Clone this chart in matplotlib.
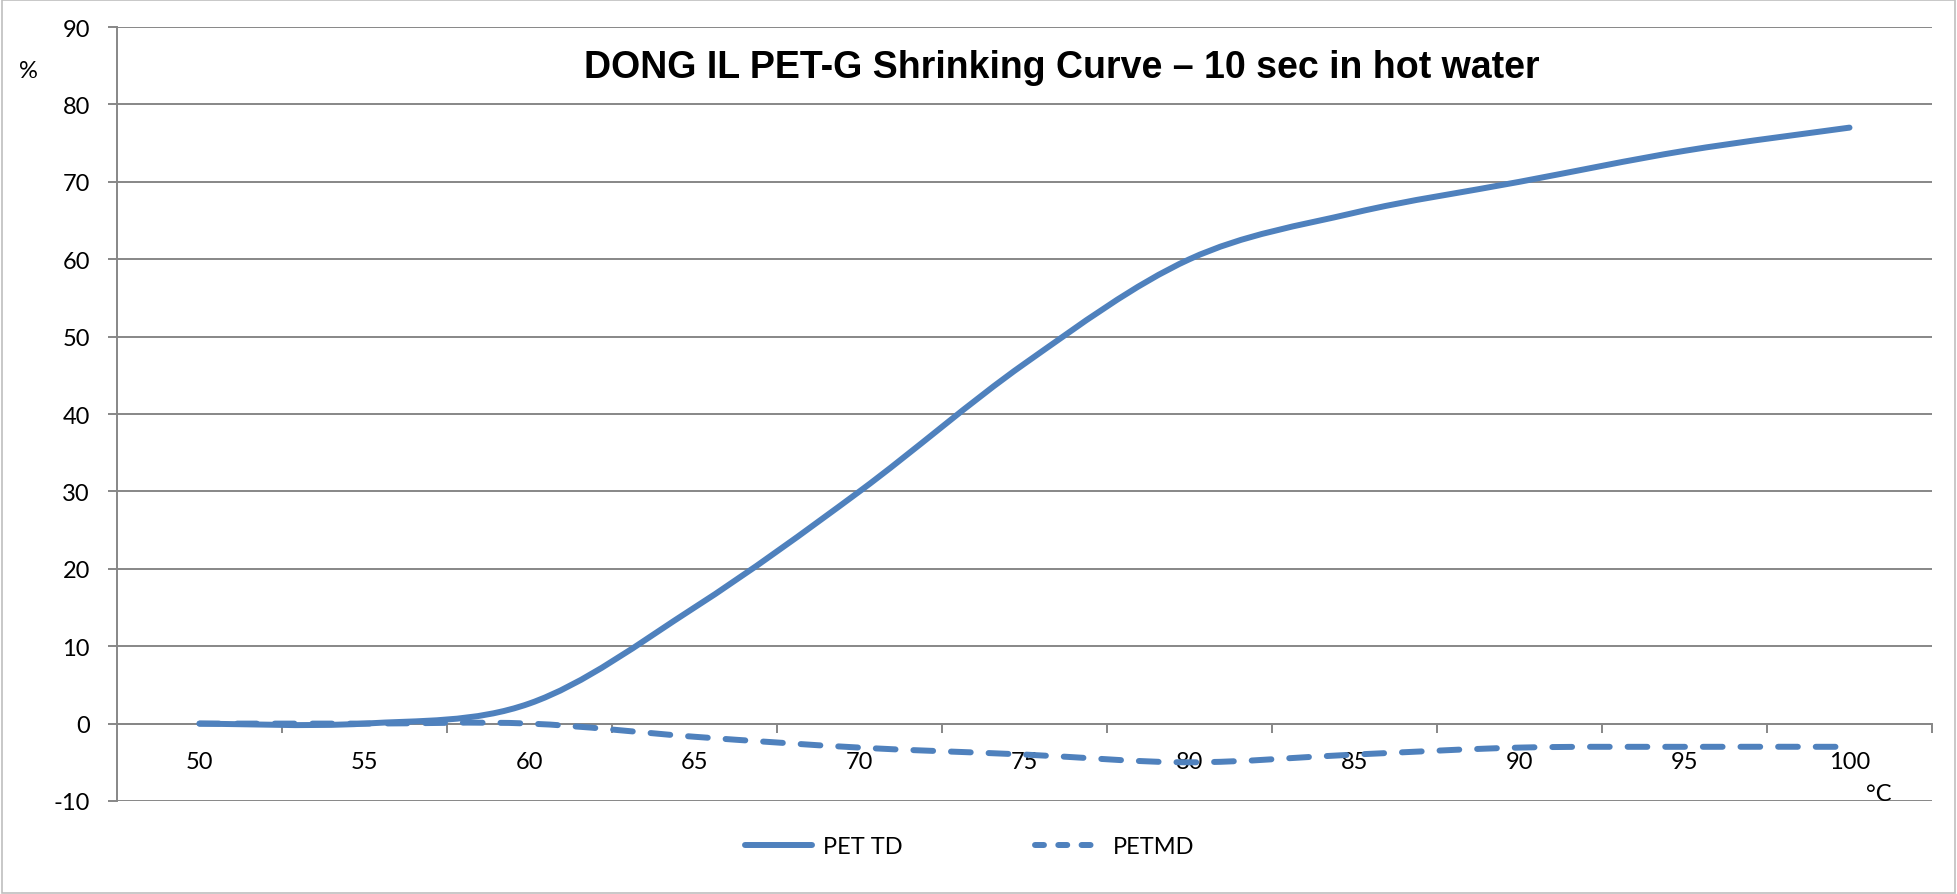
import matplotlib
matplotlib.use("Agg")
import matplotlib.pyplot as plt
import numpy as np
from matplotlib.lines import Line2D
from matplotlib.patches import PathPatch, Rectangle
from matplotlib.path import Path

temps = [50, 55, 60, 65, 70, 75, 80, 85, 90, 95, 100]
pet_td = [0, 0, 2.6, 15, 30, 46.5, 60, 66, 70, 74, 77]
pet_md = [0, 0, 0, -1.7, -3.1, -4, -5, -4, -3.1, -3, -3]
y_ticks = [-10, 0, 10, 20, 30, 40, 50, 60, 70, 80, 90]

BLUE = "#4F81BD"
GRID = "#878787"

plt.rcParams["font.family"] = ["Lato", "DejaVu Sans"]
plt.rcParams["axes.unicode_minus"] = False


def smooth_path(xs, ys):
    # Excel-style smoothed line: cubic Bezier segments through every point
    pts = np.column_stack([xs, ys]).astype(float)
    n = len(pts)
    verts = [pts[0]]
    codes = [Path.MOVETO]
    for i in range(n - 1):
        p_prev = pts[max(i - 1, 0)]
        p0, p1 = pts[i], pts[i + 1]
        p_next = pts[min(i + 2, n - 1)]
        c1 = p0 + (p1 - p_prev) / 6.0
        c2 = p1 - (p_next - p0) / 6.0
        verts += [c1, c2, p1]
        codes += [Path.CURVE4] * 3
    return Path(verts, codes)


fig = plt.figure(figsize=(19.57, 8.95), dpi=100)
ax = fig.add_axes([117 / 1957, 1 - 802 / 895, 1815 / 1957, 774 / 895])

ax.set_xlim(47.5, 102.5)
ax.set_ylim(-10, 90)
ax.set_yticks(y_ticks)
ax.yaxis.grid(True, color=GRID, lw=1.4)
ax.set_axisbelow(True)

for s in ["top", "right"]:
    ax.spines[s].set_visible(False)
ax.spines["left"].set_color(GRID)
ax.spines["left"].set_linewidth(1.4)
ax.spines["bottom"].set_position(("data", 0))
ax.spines["bottom"].set_color(GRID)
ax.spines["bottom"].set_linewidth(1.4)

# category labels at centres, tick marks at category boundaries
ax.set_xticks(temps)
ax.set_xticklabels([str(t) for t in temps])
ax.set_xticks([t + 2.5 for t in temps], minor=True)
ax.tick_params(axis="x", which="major", length=0, pad=20, labelsize=17)
ax.tick_params(axis="x", which="minor", length=6.5, width=1.4, color=GRID)
ax.tick_params(axis="y", length=6.5, width=1.4, color=GRID, pad=13, labelsize=17)

ax.add_patch(PathPatch(smooth_path(temps, pet_td), fill=False, edgecolor=BLUE,
                       lw=4.3, capstyle="round", joinstyle="round", zorder=3))
ax.add_patch(PathPatch(smooth_path(temps, pet_md), fill=False, edgecolor=BLUE,
                       lw=4.3, linestyle=(0, (3.3, 3.0)), capstyle="round", zorder=3))

fig.text(28 / 1957, 1 - 71 / 895, "%", fontsize=17, ha="center", va="center")
fig.text(1879 / 1957, 1 - 795 / 895, "°C", fontsize=17, ha="center", va="center")
fig.text(1062 / 1957, 1 - 68 / 895, "DONG IL PET-G Shrinking Curve – 10 sec in hot water",
         fontsize=27, fontweight="bold", family="Liberation Sans", ha="center", va="center")

handles = [
    Line2D([], [], color=BLUE, lw=4.3, solid_capstyle="round"),
    Line2D([], [], color=BLUE, lw=4.3, linestyle=(0, (1.5, 2.4)), dash_capstyle="round"),
]
fig.legend(handles, ["PET TD", "PETMD"], loc="center", ncol=2, frameon=False,
           bbox_to_anchor=(970 / 1957, 1 - 848 / 895), fontsize=17,
           handlelength=2.8, handletextpad=0.5, columnspacing=5.6)

fig.add_artist(Rectangle((0.0008, 0.0012), 0.9984, 0.9976, transform=fig.transFigure,
                         fill=False, edgecolor="#BFBFBF", lw=1.2))

fig.savefig("out.png", dpi=100)
